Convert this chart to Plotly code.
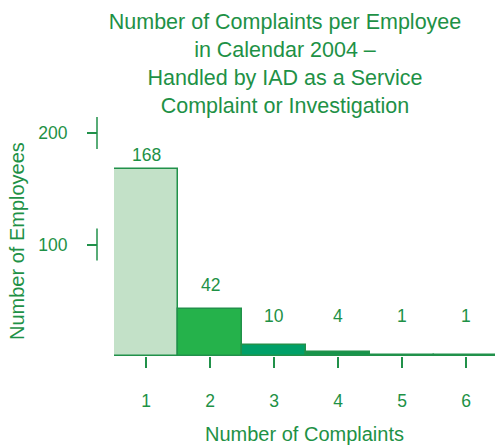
import plotly.graph_objects as go

# Complaint counts per employee, calendar 2004
complaints = [1, 2, 3, 4, 5, 6]
employees = [168, 42, 10, 4, 1, 1]
y_ticks = [100, 200]

# styling
TEXT = "#1e9146"
FONT = "Liberation Sans, Arial, sans-serif"
bar_fills = ["#c3e1c8", "#25b24b", "#00a068", "#17944a", "#17944a", "#17944a"]
bar_lines = "#21914a"
label_lift_px = [14, 24, 29, 36, 39, 39]

W, H = 495, 446
M_L, M_R, M_T, M_B = 97, 0, 110, 90
PX_PER_UNIT_Y = 1.115
PX_PER_UNIT_X = 64
plot_w = W - M_L - M_R
plot_h = H - M_T - M_B
x_start_px = 17  # gap between the value axis and the first bar
y_max = plot_h / PX_PER_UNIT_Y
x_min = 0.5
x_max = x_min + (plot_w - x_start_px) / PX_PER_UNIT_X

fig = go.Figure()
fig.add_trace(go.Bar(
    x=complaints,
    y=employees,
    width=1,
    marker=dict(color=bar_fills, line=dict(color=bar_lines, width=1.5)),
    hoverinfo="x+y",
))

# value labels above each bar
for c, v, lift in zip(complaints, employees, label_lift_px):
    fig.add_annotation(
        x=c, y=v, xref="x", yref="y", text=str(v), showarrow=False,
        yanchor="middle", yshift=lift,
        font=dict(family=FONT, size=17.5, color=TEXT),
    )

# short vertical strokes through each value-axis tick
half_stroke = 16 / PX_PER_UNIT_Y
for t in y_ticks:
    fig.add_shape(
        type="line", xref="paper", yref="y",
        x0=0, x1=0, y0=t - half_stroke, y1=t + half_stroke,
        line=dict(color=bar_lines, width=1.5),
    )

# value-axis title, set slightly below the middle of the plot area
fig.add_annotation(
    text="Number of Employees", textangle=-90, showarrow=False,
    xref="paper", x=-(M_L - 17) / plot_w, xanchor="center",
    yref="paper", y=(H - M_B - 241) / plot_h, yanchor="middle",
    font=dict(family=FONT, size=20, color=TEXT),
)

fig.update_layout(
    width=W, height=H,
    margin=dict(l=M_L, r=M_R, t=M_T, b=M_B, pad=0),
    paper_bgcolor="white", plot_bgcolor="white",
    bargap=0,
    showlegend=False,
    font=dict(family=FONT, color=TEXT),
    title=dict(
        text="Number of Complaints per Employee<br>in Calendar 2004 –<br>"
             "Handled by IAD as a Service<br>Complaint or Investigation",
        xref="container", yref="container",
        x=285 / W, xanchor="center",
        y=1 - 29 / H, yanchor="top",
        font=dict(family=FONT, size=21.5, color=TEXT),
    ),
    xaxis=dict(
        domain=[x_start_px / plot_w, 1],
        range=[x_min, x_max],
        tickvals=complaints,
        ticktext=[str(c) for c in complaints],
        ticks="outside", ticklen=11, tickwidth=1.5, tickcolor=bar_lines,
        ticklabelstandoff=18,
        showline=False, showgrid=False, zeroline=False,
        tickfont=dict(family=FONT, size=17.5, color=TEXT),
        title=dict(text="Number of Complaints", standoff=16,
                   font=dict(family=FONT, size=20, color=TEXT)),
    ),
    yaxis=dict(
        anchor="free", position=0,
        range=[0, y_max],
        tickvals=y_ticks,
        ticks="outside", ticklen=10, tickwidth=1.5, tickcolor=bar_lines,
        ticklabelstandoff=16,
        showline=False, showgrid=False, zeroline=False,
        tickfont=dict(family=FONT, size=17.5, color=TEXT),
    ),
)

fig.write_html("out.html")
